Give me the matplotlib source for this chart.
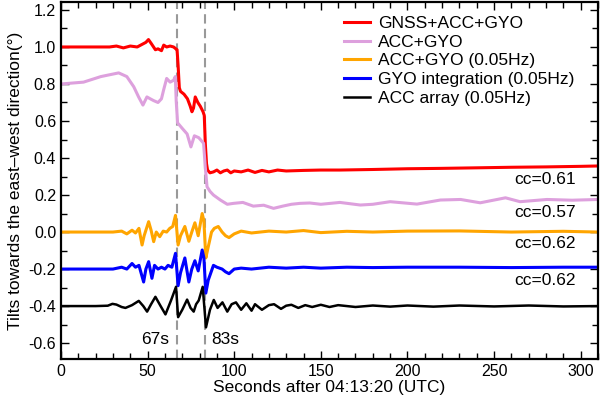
import matplotlib
matplotlib.use("Agg")
import matplotlib.pyplot as plt
from matplotlib.ticker import MultipleLocator

plt.rcParams['font.family'] = ['Liberation Sans', 'DejaVu Sans']

# GNSS+ACC+GYO
red_t = [0, 28, 32, 36, 40, 44, 47, 49, 50.5, 52, 54.5, 56, 58, 59.3, 61, 63, 65, 66.3, 67, 67.6,
         68.3, 69, 71, 73, 74.6, 75.6, 76.5, 77.5, 79, 80.4, 82, 82.7, 83.3, 84, 84.6, 86, 88, 90, 92, 94,
         96, 98, 100, 104, 108, 112, 116, 120, 125, 130, 140, 150, 161, 180, 200, 219, 240, 260, 280, 300, 310]
red_v = [1.0, 1.0, 1.005, 0.995, 1.005, 1.0, 1.015, 1.025, 1.04, 1.02, 0.985, 0.99, 0.98, 1.01, 1.0,
         1.005, 1.0, 0.99, 0.985, 0.9, 0.78, 0.76, 0.745, 0.72, 0.68, 0.65, 0.67, 0.73, 0.70, 0.68,
         0.65, 0.63, 0.48, 0.37, 0.335, 0.32, 0.325, 0.335, 0.32, 0.33, 0.335, 0.32, 0.33, 0.325, 0.335,
         0.322, 0.333, 0.325, 0.335, 0.33, 0.333, 0.335, 0.335, 0.338, 0.342, 0.344, 0.347, 0.35, 0.352,
         0.355, 0.357]

# ACC+GYO
pink_t = [0, 13, 23, 33.3, 38, 42, 44.8, 47.3, 49.6, 51.5, 53.5, 56, 58, 59.3, 61, 63, 65, 66, 66.5,
          67.3, 70, 72.8, 75, 77, 79.5, 82.3, 83.3, 84.3, 86, 88, 92, 96, 99.6, 105, 111, 117, 122.7,
          128, 133, 138, 143.6, 150, 161, 172.8, 180, 190, 205.5, 219, 230.7, 242, 256.6, 265, 280.6, 295, 310]
pink_v = [0.80, 0.81, 0.84, 0.86, 0.84, 0.785, 0.73, 0.686, 0.73, 0.72, 0.71, 0.70, 0.72, 0.77, 0.83,
          0.81, 0.82, 0.84, 0.71, 0.59, 0.56, 0.53, 0.46, 0.52, 0.51, 0.48, 0.35, 0.245, 0.22, 0.20,
          0.173, 0.15, 0.155, 0.16, 0.14, 0.145, 0.128, 0.14, 0.15, 0.155, 0.157, 0.15, 0.16, 0.146,
          0.15, 0.164, 0.151, 0.173, 0.176, 0.158, 0.185, 0.164, 0.176, 0.172, 0.176]

# ACC+GYO (0.05Hz)
orange_t = [0, 30, 35, 38, 41, 43, 45, 46.8, 48, 50.6, 52, 53.5, 55, 57, 59, 61, 62.8, 64.5, 66.1,
            67.6, 69, 71.5, 73.8, 75.5, 77.3, 79.2, 81.5, 82.5, 83.6, 85, 86.9, 88.5, 90.8, 93, 95,
            97, 100, 104, 110, 120, 130, 140, 150, 165, 180, 200, 230, 260, 290, 310]
orange_v = [0, 0, 0.005, -0.01, 0.01, -0.005, 0.02, -0.07, -0.02, 0.056, 0.01, -0.052, 0.0, -0.025,
            0.005, 0.0, 0.02, 0.03, 0.09, -0.07, -0.02, 0.03, -0.05, 0.0, 0.05, -0.02, 0.10, 0.06,
            -0.14, -0.08, 0.0, 0.02, 0.03, 0.0, -0.02, -0.03, -0.01, 0.005, -0.005, 0.005, 0.0, 0.008,
            -0.003, 0.004, 0.0, 0.005, 0.006, 0.0, 0.004, 0.0]

# GYO integration (0.05Hz)
blue_t = [0, 30, 35, 38, 41, 43, 45, 47.7, 49, 50.6, 52.5, 54, 56, 58, 60, 61.8, 64, 66.1, 67.6, 69,
          71.5, 73.8, 75.5, 77.3, 79.2, 81.5, 82.5, 83.6, 85, 88, 90, 93, 95, 97, 100, 104, 110, 120,
          130, 140, 150, 165, 180, 200, 230, 260, 290, 310]
blue_v = [-0.2, -0.2, -0.19, -0.2, -0.17, -0.19, -0.18, -0.27, -0.2, -0.16, -0.25, -0.18, -0.2, -0.19,
          -0.2, -0.18, -0.19, -0.115, -0.29, -0.22, -0.14, -0.27, -0.2, -0.155, -0.21, -0.097, -0.14,
          -0.33, -0.26, -0.18, -0.19, -0.2, -0.215, -0.225, -0.2, -0.195, -0.2, -0.19, -0.195, -0.19,
          -0.195, -0.19, -0.192, -0.19, -0.19, -0.192, -0.19, -0.19]

# ACC array (0.05Hz)
black_t = [0, 20, 27, 29.7, 32, 35, 37.2, 41, 44.9, 47.5, 49.7, 52, 54.5, 57.5, 60.3, 63.5, 66.4, 67.6,
           70, 72.8, 74.8, 76.6, 78, 79.5, 81.8, 83.7, 86, 88.2, 90.4, 93.2, 96, 98.5, 101, 104, 107,
           110, 112, 116, 120, 123, 127, 130, 133, 137, 141, 145, 150, 155, 160, 170, 180, 190, 200,
           215, 230, 250, 270, 290, 310]
black_v = [-0.4, -0.4, -0.398, -0.388, -0.392, -0.405, -0.41, -0.395, -0.372, -0.4, -0.43, -0.39,
           -0.35, -0.4, -0.445, -0.37, -0.296, -0.46, -0.42, -0.365, -0.41, -0.43, -0.39, -0.37,
           -0.296, -0.515, -0.42, -0.367, -0.41, -0.38, -0.43, -0.39, -0.38, -0.42, -0.385, -0.425,
           -0.39, -0.42, -0.395, -0.39, -0.415, -0.398, -0.393, -0.41, -0.395, -0.405, -0.393, -0.405,
           -0.395, -0.405, -0.397, -0.403, -0.397, -0.403, -0.397, -0.402, -0.397, -0.402, -0.4]

event_times = [67, 83]
event_labels = ['67s', '83s']
cc_labels = ['cc=0.61', 'cc=0.57', 'cc=0.62', 'cc=0.62']
cc_y = [0.286, 0.108, -0.06, -0.26]

fig = plt.figure(figsize=(6.0, 3.97), dpi=100)
ax = fig.add_axes([61 / 600, 38 / 397, 537 / 600, 357 / 397])

for t in event_times:
    ax.axvline(t, color='#999999', lw=1.5, linestyle=(0, (4.5, 2.5)), zorder=1)

ax.plot(red_t, red_v, color='#ff0000', lw=2.2, label='GNSS+ACC+GYO')
ax.plot(pink_t, pink_v, color='#dda0dd', lw=2.2, label='ACC+GYO')
ax.plot(orange_t, orange_v, color='#ffa500', lw=2.2, label='ACC+GYO (0.05Hz)')
ax.plot(blue_t, blue_v, color='#0000ff', lw=2.2, label='GYO integration (0.05Hz)')
ax.plot(black_t, black_v, color='black', lw=1.8, label='ACC array (0.05Hz)')

for lab, y in zip(cc_labels, cc_y):
    ax.text(297, y, lab, ha='right', va='center', fontsize=12.5)

ax.text(62.5, -0.58, event_labels[0], ha='right', va='center', fontsize=12.5)
ax.text(86.8, -0.58, event_labels[1], ha='left', va='center', fontsize=12.5)

ax.set_xlim(0, 310)
ax.set_ylim(-0.686, 1.243)
ax.xaxis.set_major_locator(MultipleLocator(50))
ax.xaxis.set_minor_locator(MultipleLocator(10))
ax.yaxis.set_major_locator(MultipleLocator(0.2))
ax.yaxis.set_minor_locator(MultipleLocator(0.1))
ax.yaxis.set_major_formatter(matplotlib.ticker.FormatStrFormatter('%.1f'))
ax.tick_params(which='both', direction='in', top=True, right=True, labelsize=11.5, width=1.0)
ax.tick_params(which='major', length=6)
ax.tick_params(which='minor', length=4)
for s in ax.spines.values():
    s.set_linewidth(1.6)

ax.set_xlabel('Seconds after 04:13:20 (UTC)', fontsize=12.5, labelpad=1)
ax.set_ylabel('Tilts towards the east\u2013west direction(\u00b0)', fontsize=12.5, labelpad=4)

ax.legend(loc='upper right', bbox_to_anchor=(0.975, 0.99), frameon=False, fontsize=12.5,
          handlelength=1.5, labelspacing=0.2, borderaxespad=0.2, handletextpad=0.45)

fig.savefig('out.png', dpi=100)
